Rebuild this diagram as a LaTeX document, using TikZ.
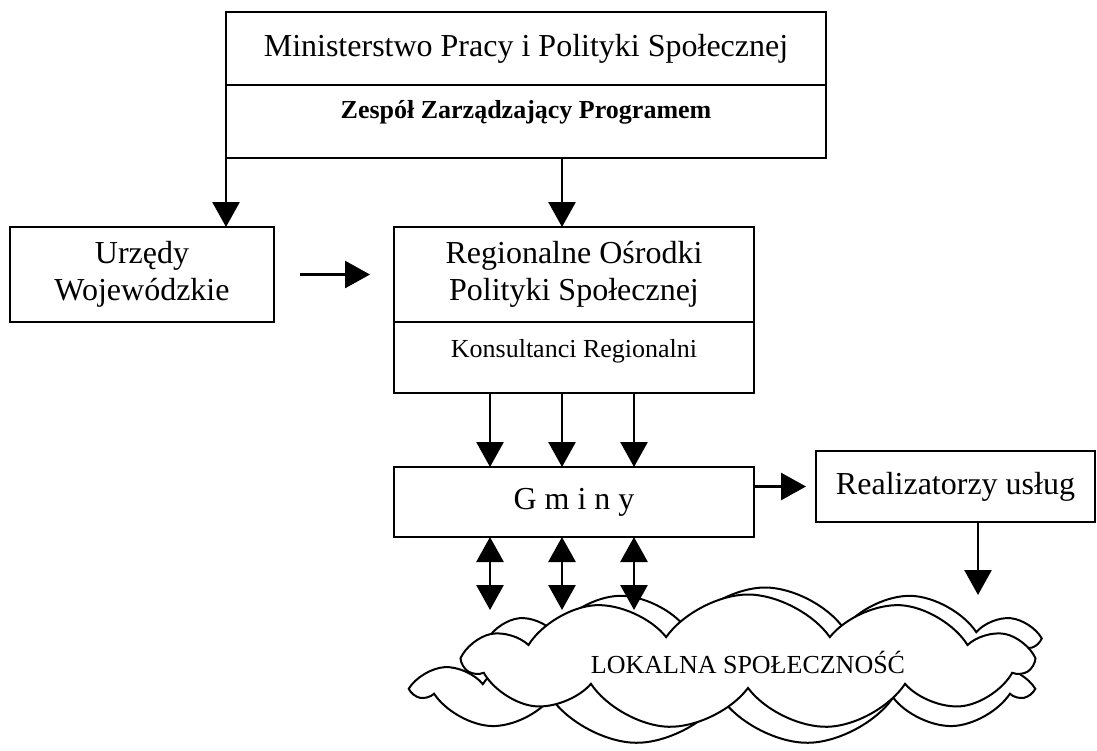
\documentclass[tikz,border=0pt]{standalone}
\usepackage{fontspec}
\setmainfont{Liberation Serif}
\usetikzlibrary{arrows.meta,shapes.symbols,calc}
\begin{document}
\begin{tikzpicture}[x=1pt,y=-1pt,
  box/.style={draw,line width=2.8pt,rectangle,inner sep=0pt,outer sep=0pt,align=center,font=\fontsize{32}{37}\selectfont},
  arr/.style={line width=2.8pt,-{Triangle[length=25pt,width=27pt]}},
  darr/.style={line width=2.8pt,{Triangle[length=25pt,width=27pt]}-{Triangle[length=25pt,width=27pt]}},
  cloudshape/.style={cloud,cloud puffs=11,cloud puff arc=110,cloud ignores aspect,draw,line width=2pt,fill=white,inner sep=0pt}]
\useasboundingbox[fill=white] (0,0) rectangle (1097,750);

% boxes
\node[box,minimum width=600pt,minimum height=73pt] (mps) at (526,48.5) {Ministerstwo Pracy i Polityki Społecznej};
\node[box,minimum width=600pt,minimum height=73pt,font=\fontsize{26}{30}\selectfont\bfseries,text height=18pt,text depth=25pt] (zzp) at (526,121.5) {Zespół Zarządzający Programem};
\node[box,minimum width=264pt,minimum height=95pt] (uw) at (142,274.5) {Urzędy\\Wojewódzkie};
\node[box,minimum width=360pt,minimum height=95pt] (rops1) at (574,274.5) {Regionalne Ośrodki\\Polityki Społecznej};
\node[box,minimum width=360pt,minimum height=71pt,font=\fontsize{26}{30}\selectfont,text height=17pt,text depth=18pt] (rops2) at (574,357.5) {Konsultanci Regionalni};
\node[box,minimum width=360pt,minimum height=70pt] (gm) at (574,502) {G m i n y};
\node[box,minimum width=279pt,minimum height=71pt] (real) at (955.5,486.5) {Realizatorzy usług};

% cloud (several offset outlines)
\node[cloudshape,minimum width=540pt,minimum height=105pt] (clA) at (765,640) {};
\node[cloudshape,minimum width=610pt,minimum height=110pt] (clB) at (722,690) {};
\node[cloudshape,minimum width=565pt,minimum height=135pt,font=\fontsize{26}{30}\selectfont] (clC) at (748,662) {LOKALNA SPOŁECZNOŚĆ};

% helper coordinates
\coordinate (c1) at (490,0);
\coordinate (c2) at (562,0);
\coordinate (c3) at (634,0);
\coordinate (c4) at (978,0);
\coordinate (t1) at (490,610);
\coordinate (t2) at (562,610);
\coordinate (t3) at (634,610);
\coordinate (t4) at (978,595);

% connectors
\draw[arr] (zzp.south west) -- (zzp.south west |- uw.north);
\draw[arr] (c2 |- zzp.south) -- (c2 |- rops1.north);
\draw[arr] ([xshift=26pt]uw.east) -- ([xshift=-24pt]rops1.west);
\foreach \c in {c1,c2,c3} {
  \draw[arr] (\c |- rops2.south) -- (\c |- gm.north);
}
\draw[darr] (c1 |- gm.south) -- (t1);
\draw[darr] (c2 |- gm.south) -- (t2);
\draw[darr] (c3 |- gm.south) -- (t3);
\draw[arr] (real.west -| gm.east) -- ([xshift=-10pt]real.west);
\draw[arr] (c4 |- real.south) -- (t4);
\end{tikzpicture}
\end{document}
